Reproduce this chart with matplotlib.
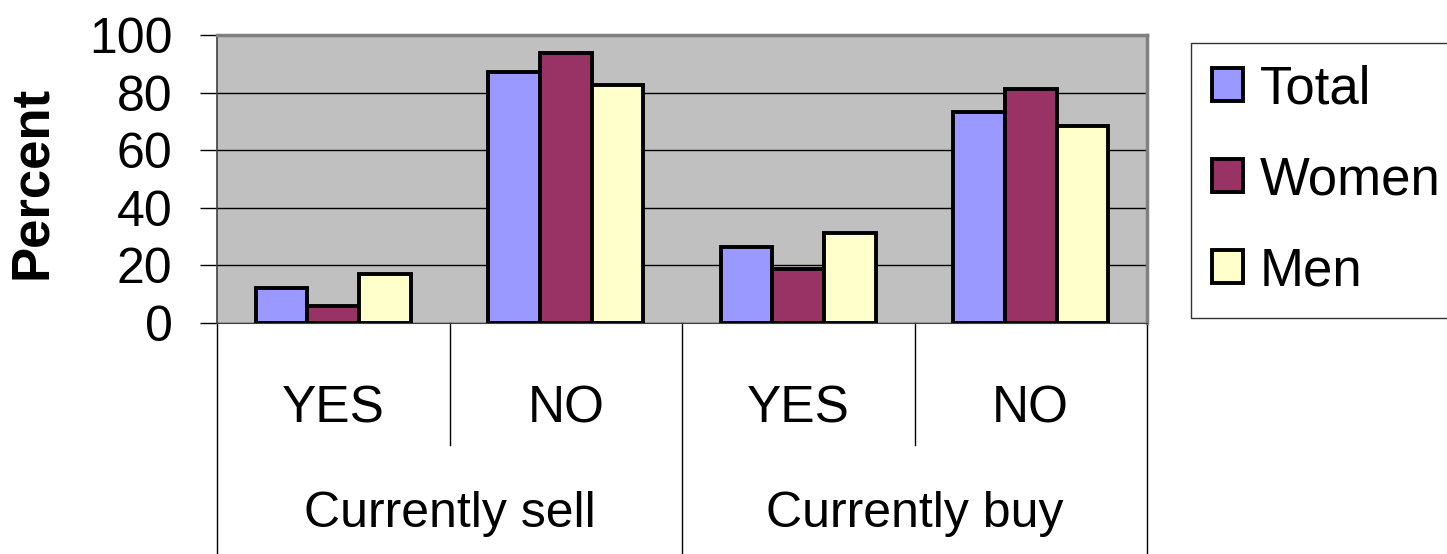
import matplotlib.pyplot as plt
import numpy as np

plt.rcParams['font.family'] = ['Liberation Sans', 'DejaVu Sans']

# sub-category labels and group labels
sub_labels = ['YES', 'NO', 'YES', 'NO']
groups = ['Currently sell', 'Currently buy']

series = ['Total', 'Women', 'Men']
total = [12.3, 87.2, 26.4, 73.3]
women = [5.9, 93.6, 18.7, 81.1]
men = [16.9, 82.6, 31.1, 68.5]
colors = ['#9999ff', '#993366', '#ffffcc']

fig = plt.figure(figsize=(14.47, 5.54), dpi=100)
ax = fig.add_axes([217/1447, 1-323/554, 930/1447, 288/554])
ax.set_facecolor('#c0c0c0')

x = np.arange(len(sub_labels))
w = 1/4.5
for i, (vals, c, name) in enumerate(zip([total, women, men], colors, series)):
    ax.bar(x + (i-1)*w, vals, w, color=c, edgecolor='black', linewidth=2.8,
           label=name, zorder=3)

ax.set_xlim(-0.5, 3.5)
ax.set_ylim(0, 100)
ax.set_yticks([0, 20, 40, 60, 80, 100])
ax.tick_params(axis='y', labelsize=36, length=12, width=1, direction='out', pad=20)
ax.set_xticks([])
ax.yaxis.grid(True, color='black', linewidth=1)
ax.set_axisbelow(True)
for s in ['top', 'right']:
    ax.spines[s].set_color('#808080')
    ax.spines[s].set_linewidth(2.5)
ax.spines['left'].set_color('#404040')
ax.spines['bottom'].set_color('#404040')
ax.spines['left'].set_linewidth(1.2)

fig.text(32/1447, 1-182/554, 'Percent', rotation=90, ha='center', va='center',
         fontsize=38, fontweight='bold')

# multi-level category axis
tr = ax.get_xaxis_transform()
for b in [-0.5, 0.5, 1.5, 2.5, 3.5]:
    bottom = -0.81 if b in (-0.5, 1.5, 3.5) else -0.424
    ax.plot([b, b], [0, bottom], color='black', linewidth=1, transform=tr,
            clip_on=False)
for xi, lab in zip(x, sub_labels):
    ax.text(xi, -0.344, lab, transform=tr, ha='center', va='baseline', fontsize=37)
for gi, g in enumerate(groups):
    ax.text(gi*2 + 0.5, -0.708, g, transform=tr, ha='center', va='baseline',
            fontsize=36)

leg = fig.legend(loc='upper left', bbox_to_anchor=(1191/1447, 1-43/554),
                 fontsize=38, frameon=True, fancybox=False, edgecolor='black',
                 handlelength=0.59, handleheight=0.59, handletextpad=0.31,
                 labelspacing=0.78, borderpad=0.4, borderaxespad=0)
leg.get_frame().set_linewidth(1)

fig.savefig('out.png', dpi=100)
